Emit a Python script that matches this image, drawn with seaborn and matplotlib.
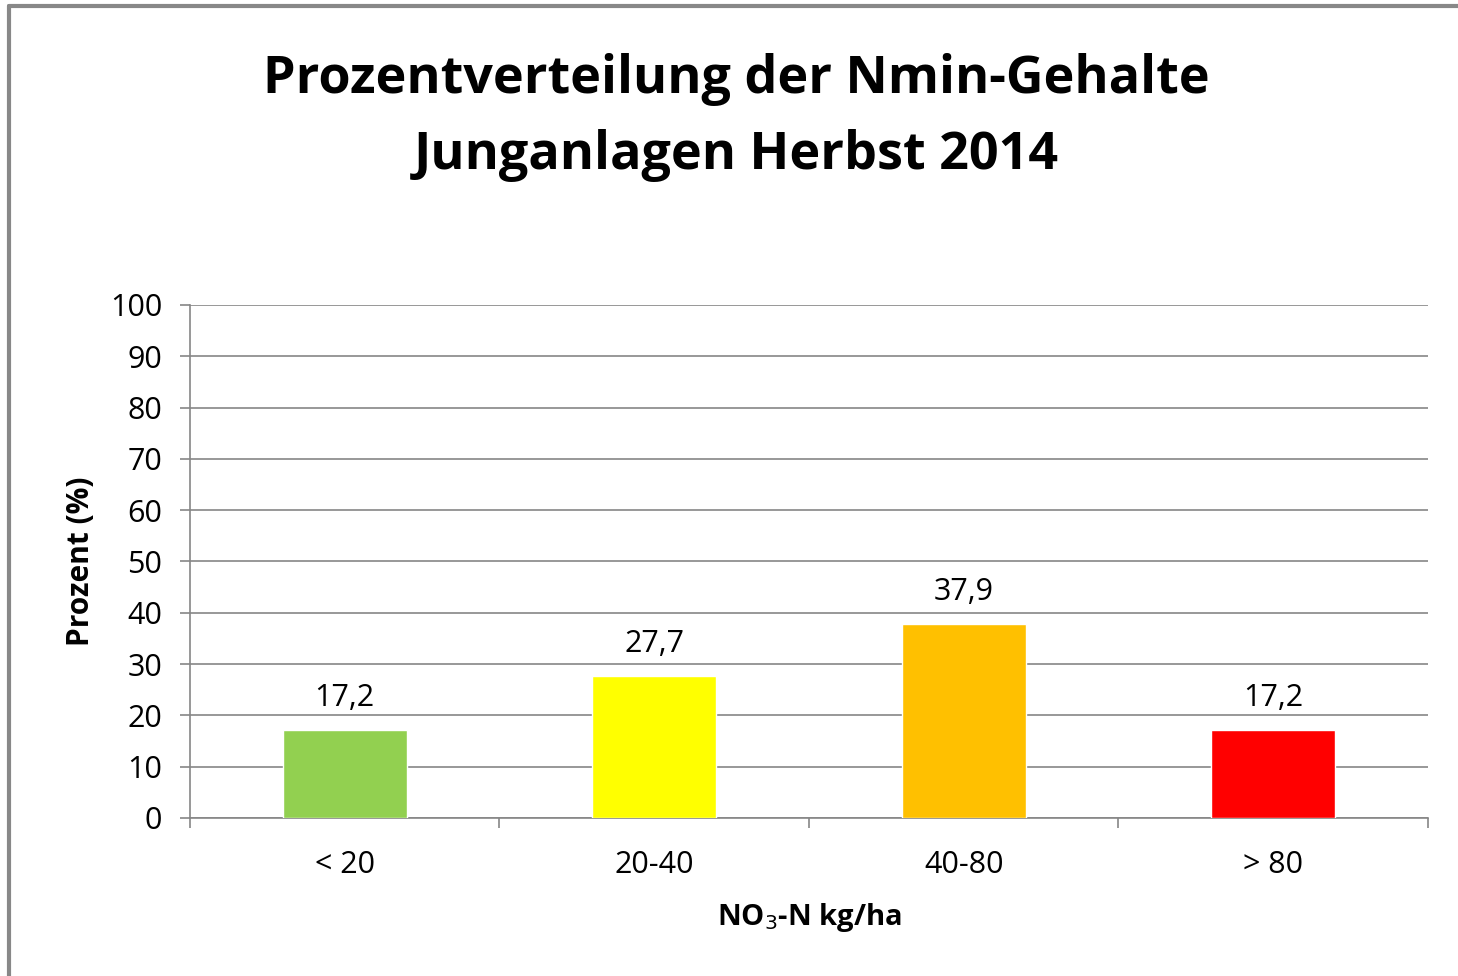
import matplotlib
matplotlib.use("Agg")
import matplotlib.pyplot as plt
import seaborn as sns
import pandas as pd
from matplotlib.lines import Line2D

# data
classes = ["< 20", "20-40", "40-80", "> 80"]
percent = [17.2, 27.7, 37.9, 17.2]
bar_colors = ["#92D050", "#FFFF00", "#FFC000", "#FF0000"]
yticks = [0, 10, 20, 30, 40, 50, 60, 70, 80, 90, 100]

df = pd.DataFrame({"Klasse": classes, "Prozent": percent})

sns.set_theme(style="white")
plt.rcParams["font.family"] = ["Open Sans", "DejaVu Sans"]
plt.rcParams["text.color"] = "black"
plt.rcParams["xtick.color"] = "black"
plt.rcParams["ytick.color"] = "black"
plt.rcParams["axes.labelcolor"] = "black"

fig = plt.figure(figsize=(14.58, 9.76), dpi=100)
ax = fig.add_axes([0.1303, 0.1619, 0.8491, 0.5256])

sns.barplot(data=df, x="Klasse", y="Prozent", hue="Klasse",
            palette=bar_colors, width=0.4, legend=False, ax=ax,
            saturation=1, zorder=3)

grey = "#868686"
ax.set_ylim(0, 100)
ax.set_xlim(-0.5, 3.5)
ax.set_yticks(yticks)
ax.set_yticklabels([str(t) for t in yticks], fontsize=22)
ax.yaxis.grid(True, color=grey, linewidth=1.2, zorder=0)
ax.set_axisbelow(True)

ax.tick_params(axis="y", length=7, width=1.2, color=grey, direction="out", pad=13, left=True)
ax.tick_params(axis="x", which="major", length=0, labelsize=22, pad=23)
ax.set_xticks([-0.5, 0.5, 1.5, 2.5, 3.5], minor=True)
ax.tick_params(axis="x", which="minor", length=7, width=1.2, color=grey, direction="out", bottom=True)

for s in ["top", "right"]:
    ax.spines[s].set_visible(False)
for s in ["left", "bottom"]:
    ax.spines[s].set_color(grey)
    ax.spines[s].set_linewidth(1.2)

for i, v in enumerate(percent):
    ax.text(i, v + 3.2, f"{v:.1f}".replace(".", ","), ha="center", va="bottom", fontsize=22)

ax.set_xlabel("NO$_3$-N kg/ha", fontsize=21, fontweight="bold", labelpad=15)
ax.set_ylabel("Prozent (%)", fontsize=21.5, fontweight="bold", labelpad=10)

fig.suptitle("Prozentverteilung der Nmin-Gehalte\nJunganlagen Herbst 2014",
             x=0.505, y=0.946, fontsize=37.5, fontweight="bold", linespacing=1.57)

# outer chart frame (only left and top edges are visible in the picture)
fig.add_artist(Line2D([0.0065, 0.0065], [0.0, 0.9935], transform=fig.transFigure, color="#888888", linewidth=3))
fig.add_artist(Line2D([0.0065, 1.0], [0.9935, 0.9935], transform=fig.transFigure, color="#888888", linewidth=3))

fig.savefig("out.png", dpi=100)
